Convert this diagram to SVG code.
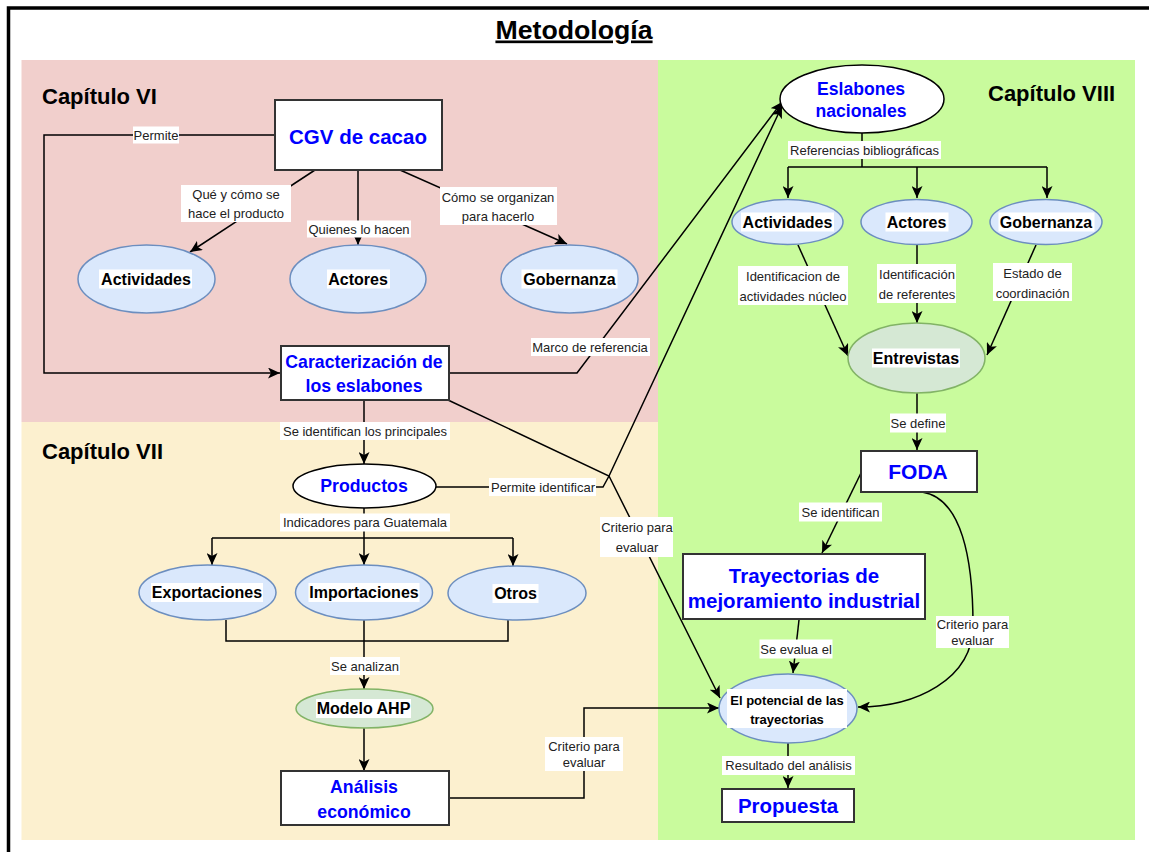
<svg xmlns="http://www.w3.org/2000/svg" width="1149" height="852" viewBox="0 0 1149 852">
<defs>
<marker id="arr" markerUnits="userSpaceOnUse" markerWidth="13" markerHeight="11" refX="12" refY="5.5" orient="auto">
<path d="M0,0 L12,5.5 L0,11 L3,5.5 Z" fill="#000"/>
</marker>
<style>
.edge{stroke:#000;stroke-width:1.5;fill:none}
.ea{stroke:#000;stroke-width:1.5;fill:none;marker-end:url(#arr)}
.lb{fill:#fff}
.lt{font-family:"Liberation Sans",Arial,sans-serif;font-size:13px;fill:#222;text-anchor:middle;dominant-baseline:central}
.box{fill:#fff;stroke:#333;stroke-width:2}
.ell{fill:#dae8fc;stroke:#6c8ebf;stroke-width:1.5}
.gel{fill:#d5e8d4;stroke:#82b366;stroke-width:1.5}
.wel{fill:#fff;stroke:#000;stroke-width:1.5}
.nt{font-family:"Liberation Sans",Arial,sans-serif;font-size:16px;font-weight:bold;fill:#000;text-anchor:middle;dominant-baseline:central}
.st{font-size:13px}
.bt{font-family:"Liberation Sans",Arial,sans-serif;font-weight:bold;fill:#0000ff;text-anchor:middle;dominant-baseline:central}
.cap{font-family:"Liberation Sans",Arial,sans-serif;font-size:22px;font-weight:bold;fill:#000}
</style>
</defs>
<rect x="0" y="0" width="1149" height="852" fill="#fff"/>
<g id="background">
<path d="M8.5,852 V8 H1149" fill="none" stroke="#000" stroke-width="3.5"/>
<rect x="21.5" y="60" width="636.5" height="362" fill="#f1cfcc"/>
<rect x="21.5" y="422" width="636.5" height="418" fill="#fcf0cf"/>
<rect x="658" y="60" width="477" height="780" fill="#c9fb9d"/>
<text x="574" y="38.5" font-family="Liberation Sans,Arial,sans-serif" font-size="26.7" font-weight="bold" text-anchor="middle" text-decoration="underline" fill="#000">Metodología</text>
<text class="cap" x="42" y="104">Capítulo VI</text>
<text class="cap" x="42" y="459">Capítulo VII</text>
<text class="cap" x="988" y="101">Capítulo VIII</text>
</g>
<g id="connectors">
<path class="ea" d="M275,135 H44 V373 H280"/>
<path class="ea" d="M315,170 L190,252"/>
<path class="ea" d="M358,170 V245"/>
<path class="ea" d="M400,170 L567,244"/>
<path class="ea" d="M449,373 H577 L782,102"/>
<path class="ea" d="M364,400 V464"/>
<path class="ea" d="M448,400 L609,476 L720,698"/>
<path class="ea" d="M436,487 H603 L609,476 L782,106"/>
<path class="ea" d="M364,508 V565"/>
<path class="edge" d="M212,538 H513"/>
<path class="ea" d="M212,538 V565"/>
<path class="ea" d="M513,538 V566"/>
<path class="edge" d="M226,620 V641 H508 V620"/>
<path class="ea" d="M364,620 V689"/>
<path class="ea" d="M364,728 V771"/>
<path class="ea" d="M449,798 H584 V708 H719"/>
<path class="edge" d="M862,133 V167 M788,167 H1047"/>
<path class="ea" d="M788,167 V198"/>
<path class="ea" d="M917,167 V198"/>
<path class="ea" d="M1047,167 V198"/>
<path class="ea" d="M798,245 L848,356"/>
<path class="ea" d="M917,245 V323"/>
<path class="ea" d="M1036,245 L987,355"/>
<path class="ea" d="M917,393 V450"/>
<path class="ea" d="M861,473 L822,553"/>
<path class="ea" d="M922,492 C962,498 973,560 973,625 C973,680 915,707 858,707"/>
<path class="ea" d="M799,620 L793,673"/>
<path class="ea" d="M788,743 V788"/>
<g id="edge-labels">
<rect class="lb" x="133" y="126.5" width="46" height="17"/><text class="lt" x="156" y="135">Permite</text>
<rect class="lb" x="181" y="185" width="110" height="37"/><text class="lt" x="236" y="194">Qué y cómo se</text><text class="lt" x="236" y="213">hace el producto</text>
<rect class="lb" x="307" y="220.5" width="104" height="17"/><text class="lt" x="359" y="229">Quienes lo hacen</text>
<rect class="lb" x="440" y="187" width="117" height="38"/><text class="lt" x="498" y="197">Cómo se organizan</text><text class="lt" x="498" y="216">para hacerlo</text>
<rect class="lb" x="531" y="338" width="119" height="18"/><text class="lt" x="590" y="347">Marco de referencia</text>
<rect class="lb" x="280" y="422" width="170" height="18"/><text class="lt" x="365" y="431">Se identifican los principales</text>
<rect class="lb" x="489" y="478" width="107" height="18"/><text class="lt" x="543" y="487">Permite identificar</text>
<rect class="lb" x="600" y="517" width="73" height="40"/><text class="lt" x="637" y="527">Criterio para</text><text class="lt" x="637" y="547">evaluar</text>
<rect class="lb" x="280" y="513.5" width="170" height="18"/><text class="lt" x="365" y="522.5">Indicadores para Guatemala</text>
<rect class="lb" x="330" y="657" width="70" height="18"/><text class="lt" x="365" y="666">Se analizan</text>
<rect class="lb" x="545" y="737" width="78" height="34"/><text class="lt" x="584" y="746">Criterio para</text><text class="lt" x="584" y="762">evaluar</text>
<rect class="lb" x="788" y="141" width="153" height="18"/><text class="lt" x="864.5" y="150">Referencias bibliográficas</text>
<rect class="lb" x="738" y="266" width="110" height="39"/><text class="lt" x="793" y="276">Identificacion de</text><text class="lt" x="793" y="296">actividades núcleo</text>
<rect class="lb" x="877" y="264" width="79" height="39"/><text class="lt" x="917" y="274">Identificación</text><text class="lt" x="917" y="294">de referentes</text>
<rect class="lb" x="993" y="263" width="79" height="38"/><text class="lt" x="1032.5" y="273">Estado de</text><text class="lt" x="1032.5" y="293">coordinación</text>
<rect class="lb" x="890" y="413.5" width="56" height="19"/><text class="lt" x="918" y="423">Se define</text>
<rect class="lb" x="799" y="502.5" width="83" height="19"/><text class="lt" x="840.5" y="512">Se identifican</text>
<rect class="lb" x="936" y="616" width="73" height="32"/><text class="lt" x="972.5" y="624">Criterio para</text><text class="lt" x="972.5" y="640">evaluar</text>
<rect class="lb" x="759.5" y="639.5" width="73" height="19"/><text class="lt" x="796" y="649">Se evalua el</text>
<rect class="lb" x="722" y="756" width="133" height="19"/><text class="lt" x="788.5" y="765.5">Resultado del análisis</text>
</g>
</g>
<g id="n-cgv"><rect class="box" x="275" y="100" width="167" height="70"/><text class="bt" x="358" y="136" font-size="20.5">CGV de cacao</text></g>
<g id="n-actividades6"><ellipse class="ell" cx="146.5" cy="279" rx="68.5" ry="34"/><rect class="lb" x="99" y="269.5" width="93" height="19"/><text class="nt" x="146" y="279">Actividades</text></g>
<g id="n-actores6"><ellipse class="ell" cx="358" cy="279" rx="68" ry="34"/><rect class="lb" x="327" y="269.5" width="63" height="19"/><text class="nt" x="358" y="279">Actores</text></g>
<g id="n-gobernanza6"><ellipse class="ell" cx="569.5" cy="279" rx="68.5" ry="34"/><rect class="lb" x="521.5" y="269.5" width="96" height="19"/><text class="nt" x="569.5" y="279">Gobernanza</text></g>
<g id="n-caracterizacion"><rect class="box" x="281" y="346" width="168" height="54"/><text class="bt" x="364" y="362" font-size="17.7">Caracterización de</text><text class="bt" x="364" y="386" font-size="17.7">los eslabones</text></g>
<g id="n-productos"><ellipse class="wel" cx="364.5" cy="486" rx="71.5" ry="22"/><text class="bt" x="364" y="485.5" font-size="17.7">Productos</text></g>
<g id="n-exportaciones"><ellipse class="ell" cx="207.5" cy="592.5" rx="68.5" ry="27.5"/><rect class="lb" x="151" y="583" width="112" height="19"/><text class="nt" x="207" y="592.5">Exportaciones</text></g>
<g id="n-importaciones"><ellipse class="ell" cx="364" cy="592.5" rx="68.5" ry="27.5"/><rect class="lb" x="308.5" y="583" width="111" height="19"/><text class="nt" x="364" y="592.5">Importaciones</text></g>
<g id="n-otros"><ellipse class="ell" cx="517" cy="593" rx="69" ry="27"/><rect class="lb" x="492.5" y="584" width="46" height="19"/><text class="nt" x="515.5" y="593.5">Otros</text></g>
<g id="n-ahp"><ellipse class="gel" cx="364.5" cy="708.5" rx="68.5" ry="19.5"/><rect class="lb" x="316" y="699" width="95" height="19"/><text class="nt" x="363.5" y="708.5">Modelo AHP</text></g>
<g id="n-analisis"><rect class="box" x="281" y="771" width="168" height="54"/><text class="bt" x="364" y="786.5" font-size="17.7">Análisis</text><text class="bt" x="364" y="811.5" font-size="17.7">económico</text></g>
<g id="n-eslabones"><ellipse class="wel" cx="862" cy="99" rx="82" ry="34"/><text class="bt" x="861" y="89" font-size="17.6">Eslabones</text><text class="bt" x="861" y="111" font-size="17.6">nacionales</text></g>
<g id="n-actividades8"><ellipse class="ell" cx="787.5" cy="222" rx="55.5" ry="22.5"/><rect class="lb" x="741" y="212.5" width="93" height="19"/><text class="nt" x="787.5" y="222">Actividades</text></g>
<g id="n-actores8"><ellipse class="ell" cx="916.5" cy="222" rx="55.5" ry="22.5"/><rect class="lb" x="885.5" y="212.5" width="63" height="19"/><text class="nt" x="916.5" y="222">Actores</text></g>
<g id="n-gobernanza8"><ellipse class="ell" cx="1046" cy="222" rx="56" ry="22.5"/><rect class="lb" x="998.5" y="212.5" width="96" height="19"/><text class="nt" x="1046" y="222">Gobernanza</text></g>
<g id="n-entrevistas"><ellipse class="gel" cx="916.5" cy="358" rx="68.5" ry="35"/><rect class="lb" x="872" y="348.5" width="88" height="19"/><text class="nt" x="916" y="358">Entrevistas</text></g>
<g id="n-foda"><rect class="box" x="861" y="451" width="116" height="41"/><text class="bt" x="918" y="471" font-size="21">FODA</text></g>
<g id="n-trayectorias"><rect class="box" x="683" y="554" width="242" height="65"/><text class="bt" x="804" y="575" font-size="20.5">Trayectorias de</text><text class="bt" x="804" y="600" font-size="20.5">mejoramiento industrial</text></g>
<g id="n-potencial"><ellipse class="ell" cx="788" cy="708.5" rx="69" ry="34.5"/><rect class="lb" x="727" y="689" width="120" height="39"/><text class="nt st" x="787" y="700">El potencial de las</text><text class="nt st" x="787" y="719">trayectorias</text></g>
<g id="n-propuesta"><rect class="box" x="722" y="789" width="132" height="33"/><text class="bt" x="788" y="805" font-size="20.5">Propuesta</text></g>
</svg>
